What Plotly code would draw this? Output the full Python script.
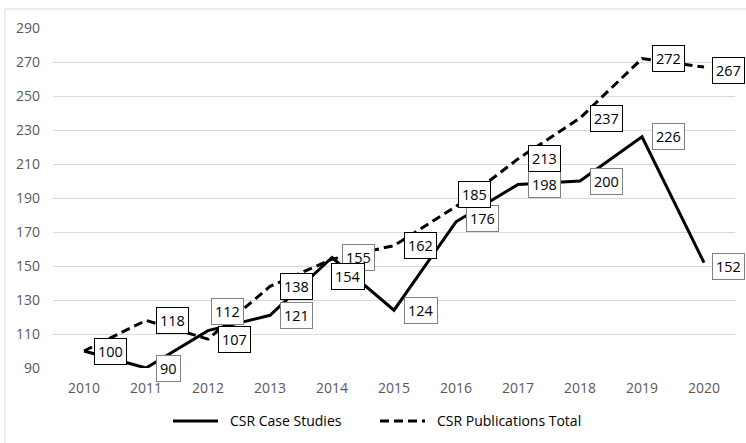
import plotly.graph_objects as go

# Annual index values (2010 = 100)
years = ["2010", "2011", "2012", "2013", "2014", "2015", "2016", "2017", "2018", "2019", "2020"]
case_studies = [100, 90, 112, 121, 155, 124, 176, 198, 200, 226, 152]
publications_total = [100, 118, 107, 138, 154, 162, 185, 213, 237, 272, 267]

series_names = ["CSR Case Studies", "CSR Publications Total"]
y_ticks = [90, 110, 130, 150, 170, 190, 210, 230, 250, 270, 290]

# label nudges (pixels) for labels that would otherwise collide
case_shift = {2: (3, 19), 6: (10, 3), 10: (8, -4)}
total_shift = {4: (-1, -17), 6: (2, 12), 10: (8, -3)}

FONT = "Open Sans"
W, H = 746, 443
L, R, T, B = 53, 11, 28, 75
PW, PH = W - L - R, H - T - B


def px_to_paper(x, y):
    return (x - L) / PW, (H - B - y) / PH


fig = go.Figure()
fig.add_trace(go.Scatter(
    x=years, y=case_studies, mode="lines", name=series_names[0],
    line=dict(color="#000000", width=3), showlegend=False,
))
fig.add_trace(go.Scatter(
    x=years, y=publications_total, mode="lines", name=series_names[1],
    line=dict(color="#000000", width=3, dash="9px,5px"), showlegend=False,
))

annotations = []


def add_labels(values, shifts, border):
    # category positions are given by index so the year strings are not read as numbers
    for i, v in enumerate(values):
        dx, dy = shifts.get(i, (10, 0))
        annotations.append(dict(
            x=i, y=v, xref="x", yref="y", text=str(v), showarrow=False,
            xanchor="left", yanchor="middle", xshift=dx, yshift=dy,
            bgcolor="#ffffff", bordercolor=border, borderwidth=1, borderpad=3,
            font=dict(family=FONT, size=14.5, color="#000000"),
        ))


add_labels(case_studies, case_shift, "#808080")
add_labels(publications_total, total_shift, "#000000")

# legend drawn below the plot
shapes = []
legend_items = [(173, 218, 228, "solid"), (380, 425, 435, "9px,5px")]
for name, (lx0, lx1, tx, dash) in zip(series_names, legend_items):
    x0, yy = px_to_paper(lx0, 421)
    x1, _ = px_to_paper(lx1, 421)
    shapes.append(dict(type="line", xref="paper", yref="paper", x0=x0, x1=x1, y0=yy, y1=yy,
                       line=dict(color="#000000", width=3, dash=dash)))
    xt, _ = px_to_paper(tx, 421)
    annotations.append(dict(
        x=xt, y=yy, xref="paper", yref="paper", text=name, showarrow=False,
        xanchor="left", yanchor="middle",
        font=dict(family=FONT, size=14, color="#000000"),
    ))

# chart frame
fx0, fy0 = px_to_paper(5, 9)
fx1, fy1 = px_to_paper(760, 460)
shapes.append(dict(type="rect", xref="paper", yref="paper", x0=fx0, y0=fy1, x1=fx1, y1=fy0,
                   line=dict(color="#d9d9d9", width=1), fillcolor="rgba(0,0,0,0)", layer="below"))

fig.update_layout(
    width=W, height=H,
    margin=dict(l=L, r=R, t=T, b=B),
    paper_bgcolor="#ffffff", plot_bgcolor="#ffffff",
    showlegend=False,
    annotations=annotations,
    shapes=shapes,
    font=dict(family=FONT, size=14, color="#595959"),
    xaxis=dict(
        type="category", range=[-0.5, 10.5], showgrid=False, zeroline=False,
        showline=False, ticks="", tickfont=dict(family=FONT, size=14, color="#595959"),
        ticklabelstandoff=10,
    ),
    yaxis=dict(
        range=[90, 290], tickvals=y_ticks, showgrid=True, gridcolor="#d9d9d9",
        gridwidth=1, zeroline=False, showline=False, ticks="",
        tickfont=dict(family=FONT, size=14, color="#595959"),
        ticklabelstandoff=12,
    ),
)

fig.write_html("out.html")
